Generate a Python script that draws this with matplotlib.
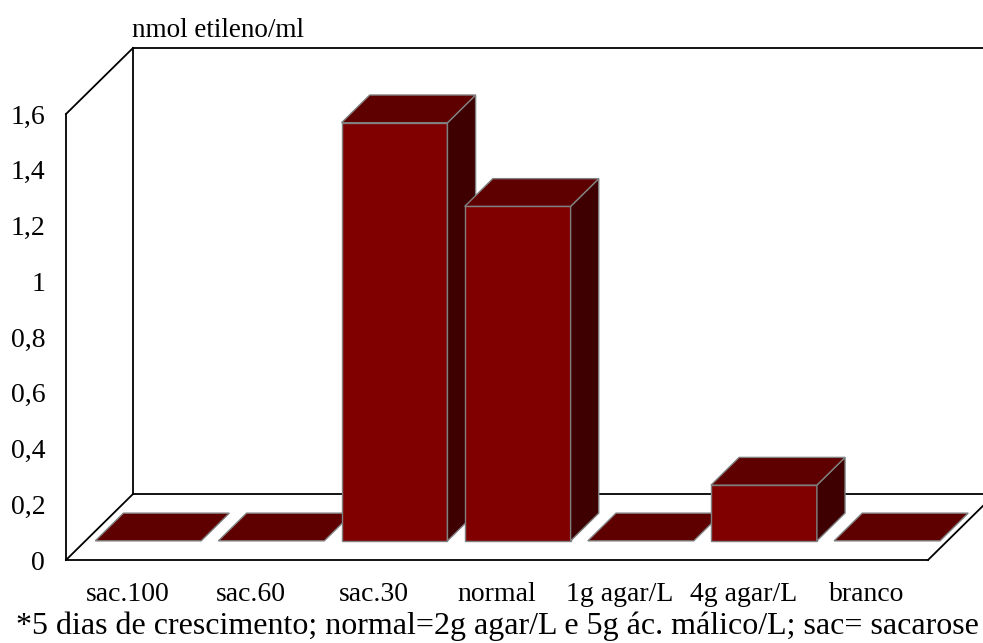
import numpy as np
import matplotlib
matplotlib.use("Agg")
import matplotlib.pyplot as plt
from matplotlib.patches import Polygon
from matplotlib.ticker import FuncFormatter

# ethylene production per treatment
categories = ["sac.100", "sac.60", "sac.30", "normal", "1g agar/L", "4g agar/L", "branco"]
ethylene = [0.0, 0.0, 1.5, 1.2, 0.0, 0.2, 0.0]
yticks = [0, 0.2, 0.4, 0.6, 0.8, 1.0, 1.2, 1.4, 1.6]
ylabel = "nmol etileno/ml"
note = "*5 dias de crescimento; normal=2g agar/L e 5g ác. málico/L; sac= sacarose"

plt.rcParams["font.family"] = ["Liberation Serif", "DejaVu Serif"]

W, H = 983, 643
fig = plt.figure(figsize=(W / 100, H / 100), dpi=100)
# front plane of the 3d box
ax = fig.add_axes([66 / W, (H - 560) / H, (928 - 66) / W, (560 - 114) / H])
n = len(categories)
ymax = 1.6
ax.set_xlim(0, n)
ax.set_ylim(0, ymax)

# oblique depth offset (category units, value units)
DX = 67 / ((928 - 66) / n)
DY = 66 / ((560 - 114) / ymax)


def proj(x, v, d):
    return (x + d * DX, v + d * DY)


def line3d(p, q, **kw):
    a = proj(*p)
    b = proj(*q)
    ax.plot([a[0], b[0]], [a[1], b[1]], color="black", lw=1.3,
            clip_on=False, solid_capstyle="projecting", **kw)


# walls and floor
line3d((0, ymax, 0), (0, ymax, 1))
line3d((0, 0, 1), (0, ymax, 1))
line3d((0, ymax, 1), (n, ymax, 1))
line3d((0, 0, 0), (0, 0, 1))
line3d((0, 0, 1), (n, 0, 1))
line3d((n, 0, 0), (n, 0, 1))

# 3d bars
f0, f1 = 0.29, 0.71
bw = 0.86
front_c, top_c, side_c = "#800000", "#5e0000", "#3e0000"
for i, h in enumerate(ethylene):
    x0 = i + 0.51 - bw / 2
    x1 = x0 + bw
    z = 3 + i
    faces = []
    if h > 0:
        faces.append(([(x0, 0, f0), (x1, 0, f0), (x1, h, f0), (x0, h, f0)], front_c))
        faces.append(([(x1, 0, f0), (x1, 0, f1), (x1, h, f1), (x1, h, f0)], side_c))
    faces.append(([(x0, h, f0), (x1, h, f0), (x1, h, f1), (x0, h, f1)], top_c))
    for pts, c in faces:
        poly = Polygon([proj(*p) for p in pts], closed=True, facecolor=c,
                       edgecolor="#808080", lw=1.0, zorder=z, clip_on=False)
        ax.add_patch(poly)

# axes: only front left and bottom edges
for s in ["top", "right"]:
    ax.spines[s].set_visible(False)
for s in ["left", "bottom"]:
    ax.spines[s].set_linewidth(1.3)
    ax.spines[s].set_zorder(20)
ax.set_yticks(yticks)
ax.yaxis.set_major_formatter(FuncFormatter(lambda v, p: ("%g" % v).replace(".", ",")))
ax.set_xticks(np.arange(n) + 0.5)
ax.set_xticklabels(categories)
ax.tick_params(axis="y", length=0, pad=15, labelsize=20)
ax.tick_params(axis="x", length=0, pad=16, labelsize=20)
ax.patch.set_visible(False)

fig.text(132 / W, 1 - 37 / H, ylabel, fontsize=19.5, va="baseline", ha="left")
fig.text(497 / W, 1 - 634 / H, note, fontsize=23, va="baseline", ha="center")

fig.savefig("out.png", dpi=100)
